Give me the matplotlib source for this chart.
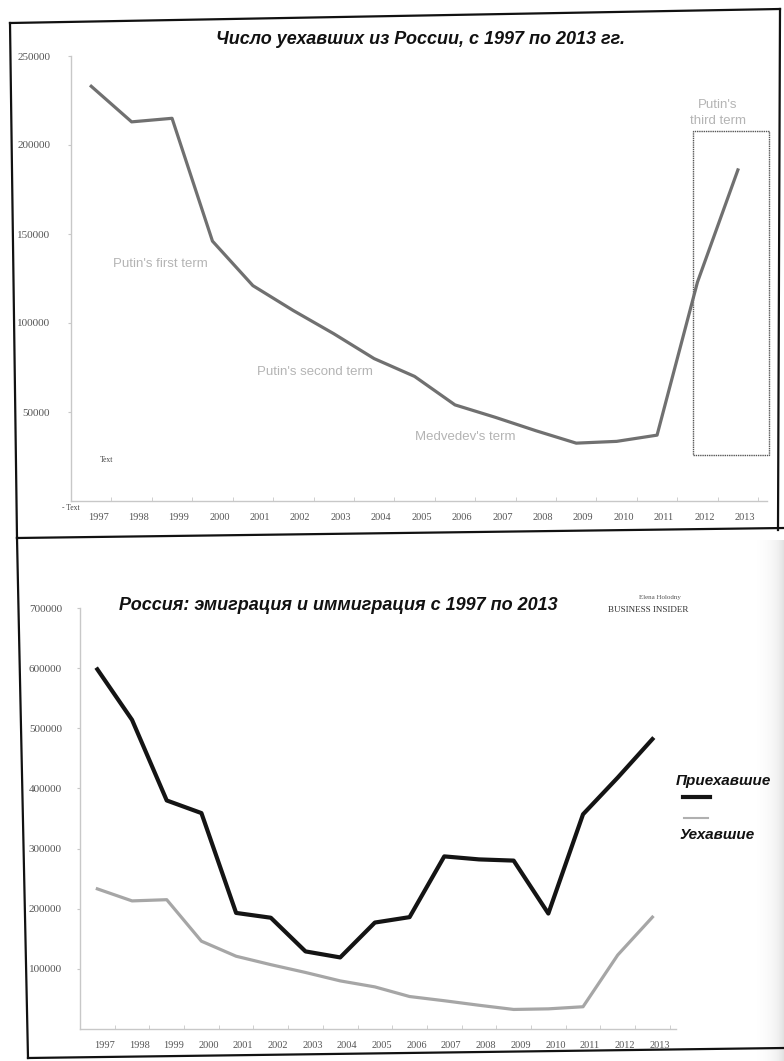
import matplotlib
matplotlib.use("Agg")
import matplotlib.pyplot as plt
import matplotlib.transforms as mtransforms
from matplotlib.lines import Line2D
from matplotlib.patches import Rectangle
import numpy as np

# ---------------- data ----------------
years = ["1997", "1998", "1999", "2000", "2001", "2002", "2003", "2004", "2005",
         "2006", "2007", "2008", "2009", "2010", "2011", "2012", "2013"]
emigrants = [233000, 213000, 215000, 146000, 121000, 107000, 94000, 80000, 70000,
             54000, 47000, 39500, 32500, 33500, 37000, 123000, 186000]
immigrants = [598000, 514000, 380000, 359000, 193000, 185000, 129000, 119000, 177000,
              186000, 287000, 282000, 280000, 192000, 357000, 418000, 482000]

yticks1 = [50000, 100000, 150000, 200000, 250000]
yticks2 = [100000, 200000, 300000, 400000, 500000, 600000, 700000]

title1 = "Число уехавших из России, с 1997 по 2013 гг."
title2 = "Россия: эмиграция и иммиграция с 1997 по 2013"
term_labels = ["Putin's first term", "Putin's second term", "Medvedev's term"]
term_pos = [(0.55, 133000), (4.1, 72500), (8.0, 36000)]
third_term = "Putin's\nthird term"
legend_labels = ["Приехавшие", "Уехавшие"]

W, H = 784, 1061
fig = plt.figure(figsize=(W / 100, H / 100), dpi=100)
fig.patch.set_facecolor("white")

def fx(px):
    return px / W

def fy(py):
    return 1 - py / H

x = np.arange(len(years))
tickfont = dict(family="Liberation Serif", size=7.5, color="#555555")
yfont = dict(family="Liberation Serif", size=8, color="#555555")
axis_col = "#c8c8c8"

def style_axes(ax, ypad):
    for s in ["top", "right"]:
        ax.spines[s].set_visible(False)
    for s in ["left", "bottom"]:
        ax.spines[s].set_color(axis_col)
        ax.spines[s].set_linewidth(1.0)
    ax.set_facecolor("none")
    ax.set_xticks(x)
    ax.set_xticklabels(years, fontdict=tickfont)
    ax.set_xticks(np.arange(-0.5, len(years), 1.0), minor=True)
    ax.tick_params(axis="x", which="major", length=0, pad=9)
    ax.tick_params(axis="x", which="minor", length=3, color=axis_col, direction="in")
    ax.tick_params(axis="y", length=2, color=axis_col, pad=ypad)
    off = mtransforms.ScaledTranslation(0.07, 0, fig.dpi_scale_trans)
    for lab in ax.get_xticklabels():
        lab.set_transform(lab.get_transform() + off)

# ---------------- chart 1 ----------------
ax1 = fig.add_axes([fx(71), fy(501), fx(767) - fx(71), fy(56) - fy(501)])
ax1.plot(x, emigrants, color="#707070", lw=2.3, solid_joinstyle="round")
ax1.set_xlim(-0.29, 16.72)
ax1.set_ylim(0, 250000)
ax1.set_yticks(yticks1)
ax1.set_yticklabels([str(v) for v in yticks1], fontdict=yfont)
style_axes(ax1, 13)

for lab, (px, py) in zip(term_labels, term_pos):
    ax1.text(px, py, lab, fontsize=9.5, color="#b4b4b4", family="Liberation Sans",
             ha="left", va="center")
ax1.text(15.5, 218000, third_term, fontsize=9.5, color="#b4b4b4",
         family="Liberation Sans", ha="center", va="center", linespacing=1.5)
ax1.add_patch(Rectangle((14.9, 26000), 1.88, 182000, fill=False, edgecolor="#555555",
                        lw=1.0, ls=(0, (1, 0.6)), clip_on=False))
fig.text(fx(100), fy(460), "Text", fontsize=5.5, color="#444444",
         family="Liberation Serif", ha="left", va="center")
fig.text(fx(62), fy(508), "- Text", fontsize=5.5, color="#444444",
         family="Liberation Serif", ha="left", va="center")
fig.text(fx(420), fy(40), title1, fontsize=13, fontweight="bold", fontstyle="italic",
         family="Liberation Sans", ha="center", va="center", color="#111111")

# ---------------- chart 2 ----------------
ax2 = fig.add_axes([fx(80), fy(1029), fx(676) - fx(80), fy(608) - fy(1029)])
ax2.plot(x, emigrants, color="#a6a6a6", lw=2.3, solid_joinstyle="round")
ax2.plot(x, immigrants, color="#141414", lw=3.0, solid_joinstyle="round")
ax2.set_xlim(-0.31, 16.68)
ax2.set_ylim(0, 700000)
ax2.set_yticks(yticks2)
ax2.set_yticklabels([str(v) for v in yticks2], fontdict=yfont)
style_axes(ax2, 11)

fig.text(fx(338), fy(606), title2, fontsize=13, fontweight="bold", fontstyle="italic",
         family="Liberation Sans", ha="center", va="center", color="#111111")
fig.text(fx(660), fy(597), "Elena Holodny", fontsize=5, family="Liberation Serif",
         ha="center", va="center", color="#555555")
fig.text(fx(648), fy(610), "BUSINESS INSIDER", fontsize=6.5, family="Liberation Serif",
         ha="center", va="center", color="#333333")

# legend
fig.text(fx(723), fy(781), legend_labels[0], fontsize=11, fontweight="bold",
         fontstyle="italic", family="Liberation Sans", ha="center", va="center",
         color="#111111")
fig.add_artist(Line2D([fx(683), fx(710)], [fy(797), fy(797)], color="#141414", lw=3))
fig.add_artist(Line2D([fx(684), fx(708)], [fy(818), fy(818)], color="#b0b0b0", lw=1.5))
fig.text(fx(717), fy(835), legend_labels[1], fontsize=11, fontweight="bold",
         fontstyle="italic", family="Liberation Sans", ha="center", va="center",
         color="#111111")

# ---------------- page frame lines ----------------
frame = [
    ((10, 23), (17, 538)),
    ((17, 538), (28, 1058)),
    ((10, 23), (780, 9)),
    ((780, 9), (778, 530)),
    ((17, 538), (784, 528)),
    ((28, 1058), (784, 1048)),
]
for (x0, y0), (x1, y1) in frame:
    fig.add_artist(Line2D([fx(x0), fx(x1)], [fy(y0), fy(y1)], color="#111111", lw=1.6))

# scan shading at the right edge of the lower half
grad = np.linspace(0, 1, 60) ** 2.5
shade_ax = fig.add_axes([fx(750), fy(1061), fx(784) - fx(750), fy(540) - fy(1061)],
                        zorder=-1)
shade_ax.imshow(np.tile(grad, (10, 1)), aspect="auto", cmap="Greys", vmin=0, vmax=5,
                extent=[0, 1, 0, 1])
shade_ax.axis("off")

fig.savefig("out.png", dpi=100, facecolor="white")
